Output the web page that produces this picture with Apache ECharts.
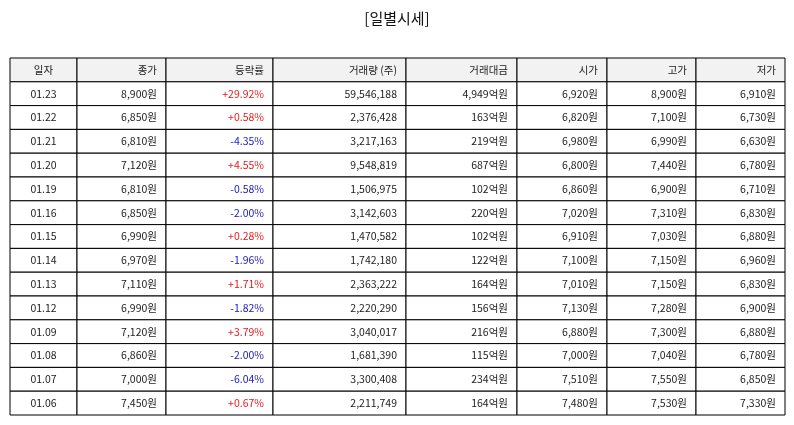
<!DOCTYPE html>
<html><head><meta charset="utf-8">
<script src="https://cdn.jsdelivr.net/npm/echarts@6/dist/echarts.min.js"></script>
<style>html,body{margin:0;background:#fff}#c{width:794px;height:425px}</style>
</head><body><div id="c"></div>
<script>
const headers = ['일자','종가','등락률','거래량 (주)','거래대금','시가','고가','저가'];
const dates = ['01.23','01.22','01.21','01.20','01.19','01.16','01.15','01.14','01.13','01.12','01.09','01.08','01.07','01.06'];
const closes = ['8,900원','6,850원','6,810원','7,120원','6,810원','6,850원','6,990원','6,970원','7,110원','6,990원','7,120원','6,860원','7,000원','7,450원'];
const changes = ['+29.92%','+0.58%','-4.35%','+4.55%','-0.58%','-2.00%','+0.28%','-1.96%','+1.71%','-1.82%','+3.79%','-2.00%','-6.04%','+0.67%'];
const volumes = ['59,546,188','2,376,428','3,217,163','9,548,819','1,506,975','3,142,603','1,470,582','1,742,180','2,363,222','2,220,290','3,040,017','1,681,390','3,300,408','2,211,749'];
const amounts = ['4,949억원','163억원','219억원','687억원','102억원','220억원','102억원','122억원','164억원','156억원','216억원','115억원','234억원','164억원'];
const opens = ['6,920원','6,820원','6,980원','6,800원','6,860원','7,020원','6,910원','7,100원','7,010원','7,130원','6,880원','7,000원','7,510원','7,480원'];
const highs = ['8,900원','7,100원','6,990원','7,440원','6,900원','7,310원','7,030원','7,150원','7,150원','7,280원','7,300원','7,040원','7,550원','7,530원'];
const lows = ['6,910원','6,730원','6,630원','6,780원','6,710원','6,830원','6,880원','6,960원','6,830원','6,900원','6,880원','6,780원','6,850원','7,330원'];

// layout config (column widths in px)
const colW = [67,89,107,133,111,90,89,89];
const total = colW.reduce((a,b)=>a+b,0);
const edges = [0]; colW.forEach(w=>edges.push(edges[edges.length-1]+w/total));

const cols = [dates,closes,changes,volumes,amounts,opens,highs,lows];
const rowLabels = ['h'].concat(dates);
const data = [];
for (let r=0;r<=dates.length;r++) for (let c=0;c<cols.length;c++) {
  data.push([c, r, r===0 ? headers[c] : cols[c][r-1]]);
}
const chart = echarts.init(document.getElementById('c'));
chart.setOption({
  title:{text:'[일별시세]',left:'center',top:6,textStyle:{fontFamily:'Noto Sans CJK KR',fontSize:15,fontWeight:'normal',color:'#111'}},
  grid:{left:10,right:9,top:58,bottom:10},
  xAxis:{type:'value',min:0,max:1,show:false},
  yAxis:{type:'category',data:rowLabels,inverse:true,show:false},
  series:[{type:'custom',data:data,encode:{x:0,y:1},
    renderItem:function(params,api){
      const c=api.value(0), r=api.value(1), txt=data[params.dataIndex][2];
      const p0=api.coord([edges[c], r]), p1=api.coord([edges[c+1], r]);
      const h=api.size([0,1])[1];
      const x=p0[0], y=p0[1]-h/2, w=p1[0]-p0[0];
      let color='#222';
      if (c===2 && r>0) color = txt[0]==='+' ? '#e8191c' : '#2020c0';
      const center = c===0;
      return {type:'group',children:[
        {type:'rect',shape:{x:x,y:y,width:w,height:h},style:{fill:r===0?'#f2f2f2':'#fff',stroke:'#000',lineWidth:1}},
        {type:'text',style:{text:txt,x:center?x+w/2:x+w-9,y:y+h/2,align:center?'center':'right',verticalAlign:'middle',fill:color,fontSize:10.5,fontFamily:'Noto Sans CJK KR'}}
      ]};
    }
  }]
});
</script></body></html>
